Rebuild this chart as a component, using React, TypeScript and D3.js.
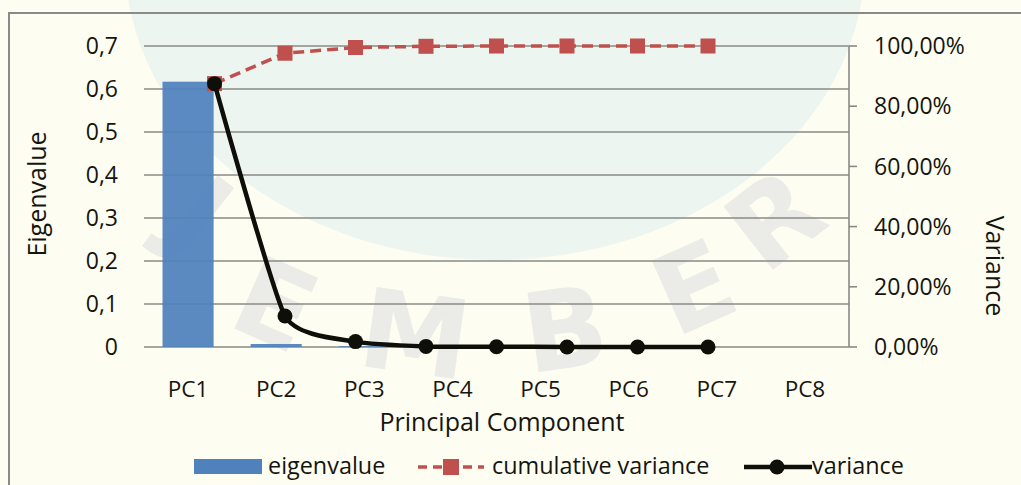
import React from "react";
import * as d3 from "d3";

// Principal components on the category axis
const components = ["PC1", "PC2", "PC3", "PC4", "PC5", "PC6", "PC7", "PC8"];
// Eigenvalue of each component (bars, left axis)
const eigenvalues = [0.617, 0.007, 0.002, 0, 0, 0, 0, 0];
// Cumulative proportion of variance (dashed red line, right axis)
const cumulativeVariance = [0.875, 0.976, 0.995, 0.999, 1, 1, 1, 1];
// Proportion of variance per component (smoothed black line, right axis)
const varianceShare = [0.875, 0.103, 0.018, 0.002, 0.001, 0, 0, 0];
// Axis ticks
const eigenTicks = [0, 0.1, 0.2, 0.3, 0.4, 0.5, 0.6, 0.7];
const percentTicks = [0, 0.2, 0.4, 0.6, 0.8, 1];
// Faint university lettering in the background
const watermarkLetters = ["J", "E", "M", "B", "E", "R"];

const W = 1021;
const H = 485;
const FONT = "'Open Sans', 'Noto Sans', sans-serif";

const plot = { left: 144, right: 849, top: 46, bottom: 347 };

export default function App() {
  const x = d3
    .scaleBand<string>()
    .domain(components)
    .range([plot.left, plot.right])
    .paddingInner(0.42)
    .paddingOuter(0.21);

  // secondary category axis used by the two line series
  const xl = d3.scaleLinear().domain([-1, 9]).range([plot.left, plot.right]);

  const yL = d3.scaleLinear().domain([0, 0.7]).range([plot.bottom, plot.top]);
  const yR = d3.scaleLinear().domain([0, 1]).range([plot.bottom, plot.top]);

  const fmtEigen = (v: number) => (v === 0 ? "0" : d3.format(".1f")(v).replace(".", ","));
  const fmtPct = (v: number) => d3.format(".2f")(v * 100).replace(".", ",") + "%";

  const cumLine = d3
    .line<number>()
    .x((_, i) => xl(i))
    .y((d) => yR(d));

  const varLine = d3
    .line<number>()
    .x((_, i) => xl(i))
    .y((d) => yR(d))
    .curve(d3.curveCardinal.tension(0.5));

  const gridColor = "#8a8a86";
  const red = "#C0504D";
  const dark = "#0f0f0a";
  const blue = "#4F81BD";
  const ink = "#151510";

  // watermark letters laid along a gentle arc
  const wmPos = [
    { x: 200, y: 215, r: 38 },
    { x: 275, y: 305, r: 24 },
    { x: 415, y: 335, r: 8 },
    { x: 565, y: 330, r: -8 },
    { x: 694, y: 288, r: -24 },
    { x: 775, y: 220, r: -38 },
  ];

  return (
    <svg
      width={W}
      height={H}
      style={{ position: "fixed", left: 0, top: 0, display: "block" }}
      fontFamily={FONT}
    >
      {/* background tint */}
      <rect x={0} y={0} width={W} height={H} fill="#fdfdf1" />
      <ellipse cx={495} cy={-40} rx={370} ry={300} fill="#edf5f0" />
      {watermarkLetters.map((l, i) => (
        <text
          key={"wm" + i}
          transform={`translate(${wmPos[i].x},${wmPos[i].y}) rotate(${wmPos[i].r})`}
          fontSize={110}
          fontWeight={700}
          fill="#ebebe7"
          textAnchor="middle"
          dominantBaseline="central"
          fontFamily="'DejaVu Sans', sans-serif"
        >
          {l}
        </text>
      ))}

      {/* chart frame */}
      <rect x={9} y={13} width={W + 40} height={H + 40} fill="none" stroke="#8a8a8a" strokeWidth={2} />

      {/* horizontal gridlines */}
      {eigenTicks.map((t) => (
        <line
          key={"g" + t}
          x1={plot.left}
          x2={plot.right}
          y1={yL(t)}
          y2={yL(t)}
          stroke={gridColor}
          strokeWidth={1.6}
        />
      ))}

      {/* left tick labels */}
      {eigenTicks.map((t) => (
        <text
          key={"lt" + t}
          x={118}
          y={yL(t)}
          dy="0.36em"
          textAnchor="end"
          fontSize={23}
          fill={ink}
        >
          {fmtEigen(t)}
        </text>
      ))}

      {/* right axis */}
      <line x1={plot.right} x2={plot.right} y1={plot.top} y2={plot.bottom} stroke={gridColor} strokeWidth={1.6} />
      {percentTicks.map((t) => (
        <g key={"rt" + t}>
          <line x1={plot.right} x2={plot.right + 8} y1={yR(t)} y2={yR(t)} stroke={gridColor} strokeWidth={1.6} />
          <text x={874} y={yR(t)} dy="0.36em" fontSize={23} fill={ink}>
            {fmtPct(t)}
          </text>
        </g>
      ))}

      {/* bars */}
      {components.map((c, i) => (
        <rect
          key={"b" + c}
          x={x(c)}
          y={yL(eigenvalues[i])}
          width={x.bandwidth()}
          height={plot.bottom - yL(eigenvalues[i])}
          fill={blue}
          opacity={0.93}
        />
      ))}

      {/* category labels */}
      {components.map((c) => (
        <text
          key={"xl" + c}
          x={(x(c) as number) + x.bandwidth() / 2}
          y={397}
          textAnchor="middle"
          fontSize={22.5}
          fill={ink}
        >
          {c}
        </text>
      ))}

      {/* cumulative variance */}
      <path
        d={cumLine(cumulativeVariance) || ""}
        fill="none"
        stroke={red}
        strokeWidth={3.5}
        strokeDasharray="11 6"
      />
      {cumulativeVariance.map((v, i) => (
        <rect key={"cm" + i} x={xl(i) - 7.5} y={yR(v) - 7.5} width={15} height={15} fill={red} />
      ))}

      {/* variance */}
      <path d={varLine(varianceShare) || ""} fill="none" stroke={dark} strokeWidth={4.5} />
      {varianceShare.map((v, i) => (
        <circle key={"vm" + i} cx={xl(i)} cy={yR(v)} r={7.5} fill={dark} />
      ))}

      {/* axis titles */}
      <text x={502} y={431} textAnchor="middle" fontSize={25} fill={ink}>
        Principal Component
      </text>
      <text
        transform={`translate(46,194) rotate(-90)`}
        textAnchor="middle"
        fontSize={25}
        fill={ink}
      >
        Eigenvalue
      </text>
      <text
        transform={`translate(986,266) rotate(90)`}
        textAnchor="middle"
        fontSize={25}
        fill={ink}
      >
        Variance
      </text>

      {/* legend */}
      <g fontSize={23.4} fill={ink}>
        <rect x={194} y={459} width={68} height={15} fill={blue} />
        <text x={268} y={474}>eigenvalue</text>

        <line x1={418} x2={484} y1={467} y2={467} stroke={red} strokeWidth={3.5} strokeDasharray="9 6" />
        <rect x={443} y={459} width={16} height={16} fill={red} />
        <text x={492} y={474}>cumulative variance</text>

        <line x1={744} x2={812} y1={467} y2={467} stroke={dark} strokeWidth={4.5} />
        <circle cx={777} cy={467} r={7.5} fill={dark} />
        <text x={812} y={474}>variance</text>
      </g>
    </svg>
  );
}
